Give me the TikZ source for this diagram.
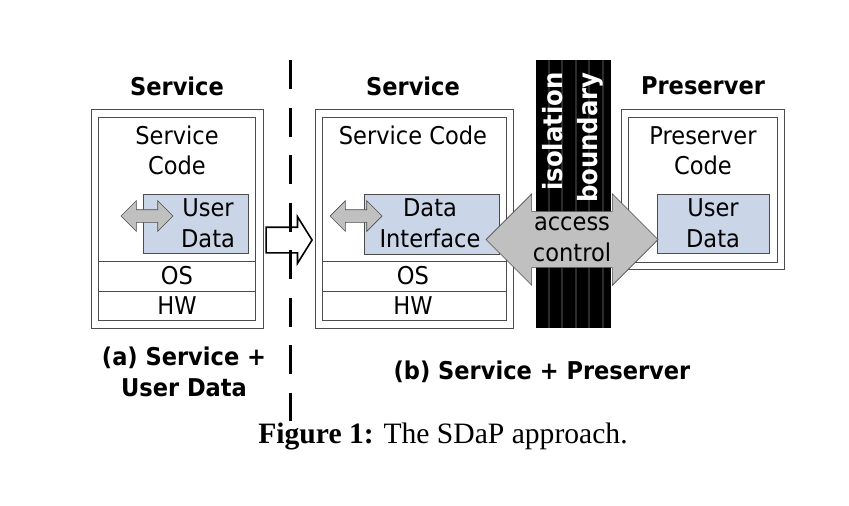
\documentclass[tikz,border=0pt]{standalone}
\usepackage{fontspec}
\setmainfont{DejaVu Sans}[FakeStretch=0.92]
\newfontfamily\capfont{Liberation Serif}
\usepackage{tikz}
\usetikzlibrary{shapes.arrows}
\definecolor{datablue}{RGB}{202,214,232}
\definecolor{arrowgray}{RGB}{192,192,192}
\definecolor{stripegray}{RGB}{44,44,44}

\begin{document}
\begin{tikzpicture}[x=1pt,y=-1pt,
  frame/.style={draw=black!70,line width=0.9pt},
  databox/.style={frame,fill=datablue},
  grayarrow/.style={double arrow,draw=black!70,line width=0.7pt,fill=arrowgray,
    inner xsep=0pt,double arrow tip angle=90},
  txt/.style={inner sep=0pt,align=center,font=\fontsize{24.5}{30.5}\selectfont},
  title/.style={txt,font=\fontsize{24.5}{30.5}\selectfont\bfseries}]
\useasboundingbox (0,0) rectangle (849,506);
\fill[white] (0,0) rectangle (849,506);

    \draw[frame] (91,109) rectangle (263,328);
    \draw[frame] (98,117) rectangle (255,320);
    \draw[frame] (98,261) -- (255,261);
    \draw[frame] (98,291) -- (255,291);
    \draw[databox] (143,194) rectangle (248,253);

    \draw[frame] (315,109) rectangle (513,328);
    \draw[frame] (322,117) rectangle (506,320);
    \draw[frame] (322,261) -- (506,261);
    \draw[frame] (322,291) -- (506,291);
    \draw[databox] (364,194) rectangle (499,254);

    \draw[frame] (621,109) rectangle (784,269);
    \draw[frame] (628,117) rectangle (777,262);
    \draw[databox] (657,194) rectangle (769,253);

    \node[grayarrow,inner ysep=6pt,double arrow head extend=9pt,minimum height=52pt]
        (swapA) at (147,216) {};
    \node[grayarrow,inner ysep=6pt,double arrow head extend=9pt,minimum height=52pt]
        (swapB) at (356,216) {};

    \node[single arrow,draw=black,line width=1.6pt,fill=white,inner xsep=0pt,inner ysep=12pt,
        single arrow head extend=10.5pt,single arrow tip angle=116,minimum height=46pt,
        anchor=tip] (move) at (313,240) {};

    \draw[black,line width=3pt,dash pattern=on 29pt off 18.5pt] (290,60) -- (290,421);

    \fill[black] (536,60) rectangle (611,328);
    \foreach \s in {0,...,4}
        \draw[stripegray,line width=2pt] (548.5+13.5*\s,60) -- (548.5+13.5*\s,328);
    \node[rotate=90,anchor=east,align=right,inner sep=0pt,text=white,
        font=\fontsize{26.5}{35}\selectfont\bfseries] (boundary) at (572.5,72) {isolation\\boundary};

    \node[grayarrow,txt,inner ysep=5.5pt,double arrow head extend=17.5pt,minimum height=172pt]
        (access) at (572,239.5) {access\\control};

    \node[title] (titleA) at (177,86) {Service};
    \node[title] (titleB) at (413,86) {Service};
    \node[title] (titleC) at (703,86) {Preserver};

    \node[txt] (codeA) at (177,150.5) {Service\\Code};
    \node[txt] (dataA) at (208,223) {User\\Data};
    \node[txt] (osA) at (177,276) {OS};
    \node[txt] (hwA) at (177,305.5) {HW};

    \node[txt] (codeB) at (413,135) {Service Code};
    \node[txt] (dataB) at (430,223) {Data\\Interface};
    \node[txt] (osB) at (413,276) {OS};
    \node[txt] (hwB) at (413,305.5) {HW};

    \node[txt] (codeC) at (703,150.5) {Preserver\\Code};
    \node[txt] (dataC) at (713,223) {User\\Data};

    \node[title] (labelA) at (184,372) {(a) Service +\\User Data};
    \node[title] (labelB) at (542,372) {(b) Service + Preserver};

    \node[inner sep=0pt,font=\capfont\fontsize{29.6}{36}\selectfont] (caption) at (443,436)
        {\textbf{Figure 1:} The SDaP approach.};
\end{tikzpicture}
\end{document}
